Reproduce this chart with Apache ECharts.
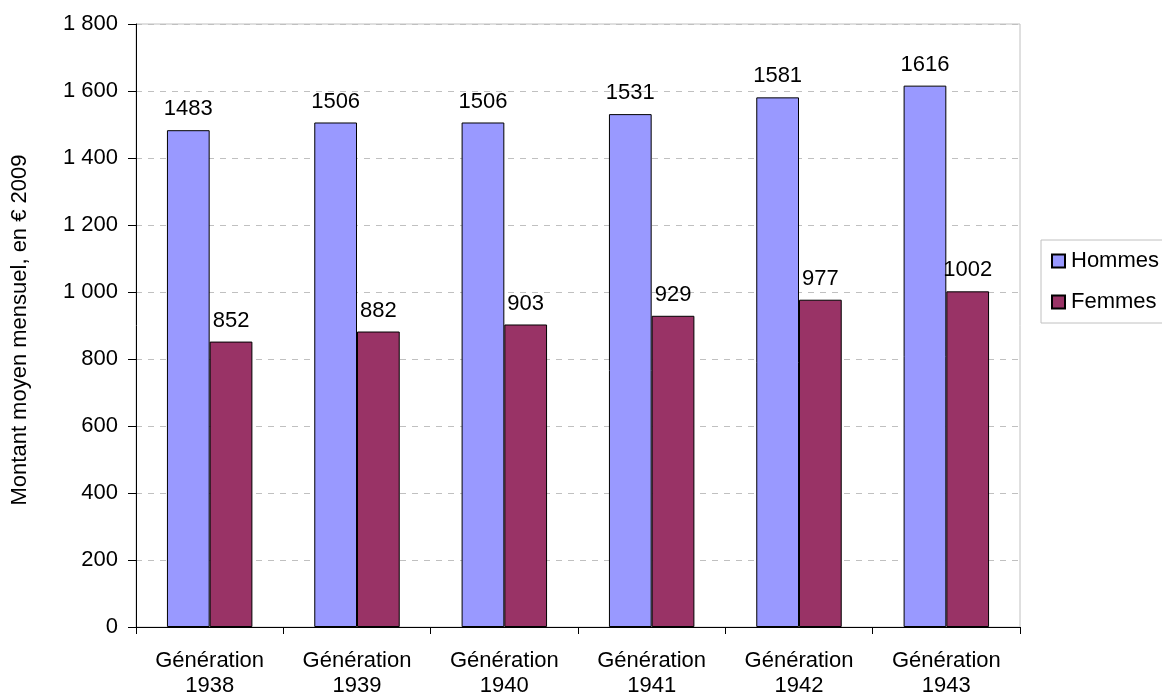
<!DOCTYPE html>
<html>
<head>
<meta charset="utf-8">
<script src="https://cdn.jsdelivr.net/npm/echarts@6/dist/echarts.min.js"></script>
<style>
  html, body { margin: 0; padding: 0; background: #fff; }
  #chart { width: 1162px; height: 698px; }
</style>
</head>
<body>
<div id="chart"></div>
<script>
// Montant moyen mensuel de pension par génération, hommes et femmes
const categories = ['Génération\n1938', 'Génération\n1939', 'Génération\n1940',
                    'Génération\n1941', 'Génération\n1942', 'Génération\n1943'];
const hommes = [1483, 1506, 1506, 1531, 1581, 1616];
const femmes = [852, 882, 903, 929, 977, 1002];
const yAxisTitle = 'Montant moyen mensuel, en € 2009';

const FONT = '"Liberation Sans", Arial, sans-serif';
const FS = 22;

// "1800" -> "1 800"
function spaceThousands(v) {
  return String(v).replace(/\B(?=(\d{3})+(?!\d))/g, ' ');
}

const chart = echarts.init(document.getElementById('chart'), null, { renderer: 'canvas' });

chart.setOption({
  animation: false,
  backgroundColor: '#ffffff',
  textStyle: { fontFamily: FONT, color: '#000' },
  grid: {
    left: 136, right: 142, top: 24, bottom: 70,
    show: true, borderColor: '#c0c0c0', borderWidth: 1
  },
  legend: {
    orient: 'vertical',
    left: 1041, top: 240,
    padding: [10, 40, 10, 10],
    itemGap: 19,
    itemWidth: 13, itemHeight: 13,
    icon: 'rect',
    borderColor: '#c0c0c0', borderWidth: 1,
    textStyle: { fontFamily: FONT, fontSize: FS, color: '#000', lineHeight: 22, padding: [0, 0, 0, 1] },
    data: ['Hommes', 'Femmes']
  },
  xAxis: {
    type: 'category',
    data: categories,
    axisLine: { lineStyle: { color: '#000', width: 1 } },
    axisTick: { show: true, alignWithLabel: false, length: 7, lineStyle: { color: '#000' } },
    axisLabel: { fontFamily: FONT, fontSize: FS, color: '#000', lineHeight: 25, margin: 21 },
    splitLine: { show: false }
  },
  yAxis: {
    type: 'value',
    min: 0, max: 1800, interval: 200,
    name: yAxisTitle,
    nameLocation: 'middle',
    nameRotate: 90,
    nameGap: 105,
    nameTextStyle: { fontFamily: FONT, fontSize: FS, color: '#000', padding: [0, 9, 0, 0] },
    axisLine: { show: true, lineStyle: { color: '#000', width: 1 } },
    axisTick: { show: true, inside: false, length: 8, lineStyle: { color: '#000' } },
    axisLabel: {
      fontFamily: FONT, fontSize: FS, color: '#000', margin: 18,
      formatter: spaceThousands
    },
    splitLine: { show: true, lineStyle: { color: '#c0c0c0', type: [6, 6], width: 1 } }
  },
  series: [
    {
      name: 'Hommes',
      type: 'bar',
      data: hommes,
      barGap: '0%',
      barCategoryGap: '42%',
      itemStyle: { color: '#9999FF', borderColor: '#000', borderWidth: 1 },
      label: {
        show: true, position: 'top', distance: 10,
        fontFamily: FONT, fontSize: FS, color: '#000'
      }
    },
    {
      name: 'Femmes',
      type: 'bar',
      data: femmes,
      barGap: '0%',
      barCategoryGap: '42%',
      itemStyle: { color: '#993366', borderColor: '#000', borderWidth: 1 },
      label: {
        show: true, position: 'top', distance: 10,
        fontFamily: FONT, fontSize: FS, color: '#000'
      }
    }
  ]
});
</script>
</body>
</html>
